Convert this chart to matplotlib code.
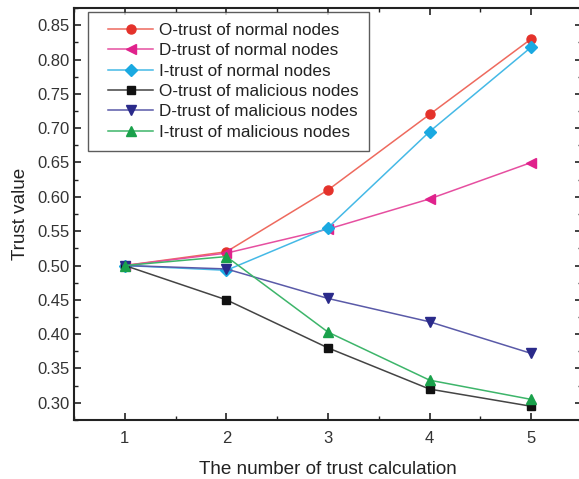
import matplotlib
matplotlib.use("Agg")
import matplotlib.pyplot as plt
from matplotlib.ticker import MultipleLocator
from matplotlib.legend_handler import HandlerLine2D

plt.rcParams['font.family'] = ['Liberation Sans', 'DejaVu Sans']

x = [1, 2, 3, 4, 5]
o_normal = [0.50, 0.520, 0.610, 0.720, 0.830]
d_normal = [0.50, 0.518, 0.553, 0.597, 0.650]
i_normal = [0.50, 0.493, 0.555, 0.695, 0.818]
o_mal = [0.50, 0.450, 0.380, 0.320, 0.295]
d_mal = [0.50, 0.495, 0.452, 0.418, 0.372]
i_mal = [0.50, 0.513, 0.403, 0.333, 0.305]

labels = ["O-trust of normal nodes", "D-trust of normal nodes", "I-trust of normal nodes",
          "O-trust of malicious nodes", "D-trust of malicious nodes", "I-trust of malicious nodes"]
series = [o_normal, d_normal, i_normal, o_mal, d_mal, i_mal]
markers = ['o', '<', 'D', 's', 'v', '^']
mcolors = ['#E4322B', '#E0228C', '#1AA9E1', '#111111', '#2A2A8A', '#1AA14B']
lcolors = ['#EE6A5E', '#E64FA0', '#45B9E6', '#444444', '#5A5AA8', '#3DB56A']
msizes = [6.5, 7.5, 6, 5.5, 7.5, 7.5]

fig = plt.figure(figsize=(5.79, 4.79), dpi=100)
ax = fig.add_axes([74/579, 1-420/479, (582-74)/579, (420-8)/479])

lines = []
for s, lab, m, mc, lc, ms in zip(series, labels, markers, mcolors, lcolors, msizes):
    ln, = ax.plot(x, s, color=lc, lw=1.1, marker=m, markersize=ms,
                  markerfacecolor=mc, markeredgecolor=mc, label=lab)
    lines.append(ln)

ax.set_xlim(0.5, 5.5)
ax.set_ylim(0.275, 0.875)
ax.xaxis.set_major_locator(MultipleLocator(1))
ax.xaxis.set_minor_locator(MultipleLocator(0.5))
ax.yaxis.set_major_locator(MultipleLocator(0.05))
ax.yaxis.set_minor_locator(MultipleLocator(0.025))
ax.yaxis.set_major_formatter(matplotlib.ticker.FormatStrFormatter('%.2f'))
ax.tick_params(which='both', direction='in', top=True, right=True, labelsize=12, colors='#222222',
               labelcolor='#333333')
ax.tick_params(which='major', length=5, width=1.2)
ax.tick_params(which='minor', length=3, width=1)
ax.tick_params(axis='x', pad=8)
for sp in ax.spines.values():
    sp.set_linewidth(1.5)
    sp.set_color('#222222')

ax.set_xlabel("The number of trust calculation", fontsize=13.6, labelpad=11, color='#222222')
ax.set_ylabel("Trust value", fontsize=13.6, labelpad=6, color='#222222')

hmap = {ln: HandlerLine2D(xpad=0.55) for ln in lines}
leg = ax.legend(handles=lines, handler_map=hmap, loc='upper left',
                bbox_to_anchor=((88-74)/508, (420-12)/412), borderaxespad=0,
                fontsize=12.3, frameon=True, fancybox=False, edgecolor='#333333',
                handlelength=3.2, labelspacing=0.32, borderpad=0.62, handletextpad=0.35)
leg.get_frame().set_linewidth(1.0)
for t in leg.get_texts():
    t.set_color('#222222')

fig.savefig("out.png", dpi=100)
